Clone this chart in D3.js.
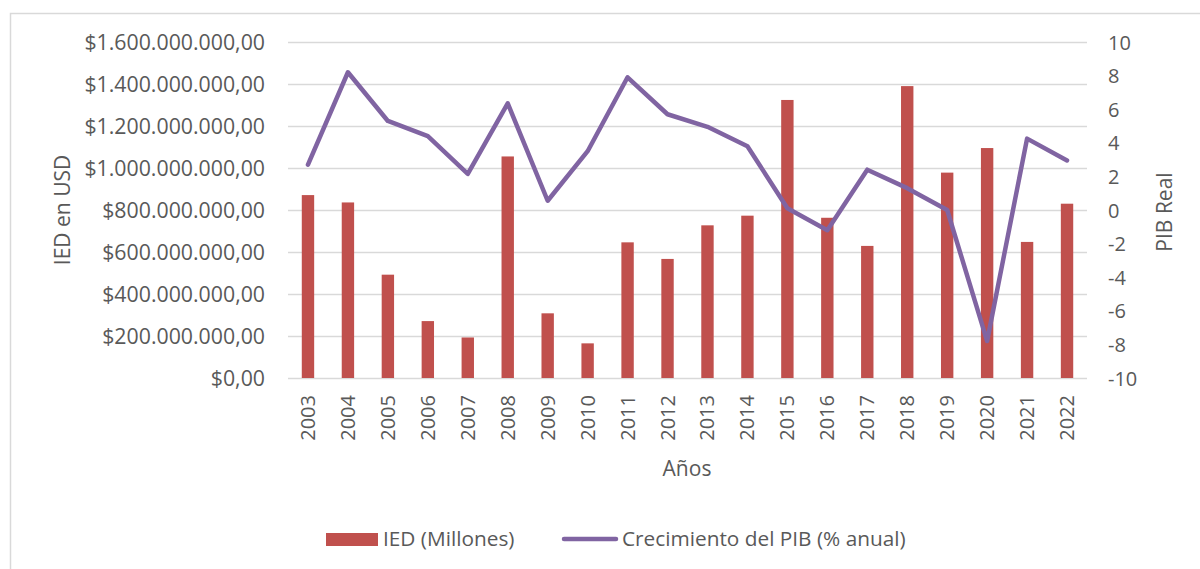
<!DOCTYPE html>
<html>
<head>
<meta charset="utf-8">
<script src="https://cdn.jsdelivr.net/npm/d3@7"></script>
<style>
  body { margin: 0; background: #fff; }
  text { font-family: "Open Sans", sans-serif; fill: #595959; }
</style>
</head>
<body>
<svg id="chart" width="1200" height="569"></svg>
<script>
// data
var years = ["2003","2004","2005","2006","2007","2008","2009","2010","2011","2012",
             "2013","2014","2015","2016","2017","2018","2019","2020","2021","2022"];
var ied = [871e6, 836e6, 492e6, 271e6, 193e6, 1055e6, 308e6, 165e6, 646e6, 567e6,
           727e6, 773e6, 1324e6, 763e6, 629e6, 1390e6, 978e6, 1095e6, 648e6, 830e6];
var pib = [2.7, 8.2, 5.3, 4.4, 2.15, 6.35, 0.55, 3.5, 7.9, 5.7,
           4.95, 3.8, 0.1, -1.2, 2.4, 1.3, 0.0, -7.8, 4.25, 2.95];
var leftTicks = [0, 2e8, 4e8, 6e8, 8e8, 10e8, 12e8, 14e8, 16e8];
var rightTicks = [-10, -8, -6, -4, -2, 0, 2, 4, 6, 8, 10];

var plot = { left: 288, right: 1087, top: 42, bottom: 378 };

var svg = d3.select("#chart");

// outer chart border
svg.append("rect")
  .attr("x", 10.5).attr("y", 13.5)
  .attr("width", 1200).attr("height", 600)
  .attr("fill", "none")
  .attr("stroke", "#d9d9d9")
  .attr("stroke-width", 1.5);

var x = d3.scaleBand()
  .domain(years)
  .range([plot.left, plot.right])
  .paddingInner(0.69)
  .paddingOuter(0.345);

var yL = d3.scaleLinear().domain([0, 1.6e9]).range([plot.bottom, plot.top]);
var yR = d3.scaleLinear().domain([-10, 10]).range([plot.bottom, plot.top]);

var fmt = function(v) {
  var s = d3.format(",.2f")(v);
  // spanish style: . thousands , decimals
  return "$" + s.replace(/,/g, "#").replace(".", ",").replace(/#/g, ".");
};

// gridlines
svg.append("g")
  .selectAll("line")
  .data(leftTicks)
  .enter().append("line")
    .attr("x1", plot.left).attr("x2", plot.right)
    .attr("y1", d => Math.round(yL(d)) + 0.5)
    .attr("y2", d => Math.round(yL(d)) + 0.5)
    .attr("stroke", "#d9d9d9")
    .attr("stroke-width", 1.5);

// left axis
var leftAxis = svg.append("g")
  .attr("transform", "translate(" + (plot.left - 23) + ",0)")
  .call(d3.axisLeft(yL).tickValues(leftTicks).tickFormat(fmt).tickSize(0).tickPadding(0));
leftAxis.select(".domain").remove();
leftAxis.selectAll("text").style("font-size", "21.3px").attr("dy", "0.35em");

// right axis
var rightAxis = svg.append("g")
  .attr("transform", "translate(" + (plot.right + 21) + ",0)")
  .call(d3.axisRight(yR).tickValues(rightTicks).tickFormat(d3.format("d")).tickSize(0).tickPadding(0));
rightAxis.select(".domain").remove();
rightAxis.selectAll("text").style("font-size", "20px").attr("dy", "0.35em")
  .text(d => d < 0 ? "-" + Math.abs(d) : d);

// bottom axis (rotated years)
var bottomAxis = svg.append("g")
  .attr("transform", "translate(0," + plot.bottom + ")")
  .call(d3.axisBottom(x).tickSize(0).tickPadding(0));
bottomAxis.select(".domain").remove();
bottomAxis.selectAll("text")
  .style("font-size", "20px")
  .attr("text-anchor", "end")
  .attr("transform", "rotate(-90)")
  .attr("x", -17)
  .attr("y", 0)
  .attr("dy", "0.35em");

// bars
svg.append("g")
  .selectAll("rect")
  .data(ied)
  .enter().append("rect")
    .attr("x", (d, i) => x(years[i]))
    .attr("y", d => yL(d))
    .attr("width", x.bandwidth())
    .attr("height", d => plot.bottom - yL(d))
    .attr("fill", "#c0504d");

// pib line
var line = d3.line()
  .x((d, i) => x(years[i]) + x.bandwidth() / 2)
  .y(d => yR(d));

svg.append("path")
  .datum(pib)
  .attr("d", line)
  .attr("fill", "none")
  .attr("stroke", "#8064a2")
  .attr("stroke-width", 4.5)
  .attr("stroke-linejoin", "round")
  .attr("stroke-linecap", "round");

// axis titles
svg.append("text")
  .attr("transform", "translate(70,210) rotate(-90)")
  .attr("text-anchor", "middle")
  .style("font-size", "21px")
  .text("IED en USD");

svg.append("text")
  .attr("transform", "translate(1172,212) rotate(-90)")
  .attr("text-anchor", "middle")
  .style("font-size", "21px")
  .text("PIB Real");

svg.append("text")
  .attr("x", 687).attr("y", 476)
  .attr("text-anchor", "middle")
  .style("font-size", "21px")
  .text("Años");

// legend
var legend = svg.append("g");
legend.append("rect")
  .attr("x", 326).attr("y", 533)
  .attr("width", 52).attr("height", 13)
  .attr("fill", "#c0504d");
legend.append("text")
  .attr("x", 383).attr("y", 546)
  .style("font-size", "20.8px")
  .text("IED (Millones)");
legend.append("line")
  .attr("x1", 564).attr("x2", 616)
  .attr("y1", 539).attr("y2", 539)
  .attr("stroke", "#8064a2")
  .attr("stroke-width", 4.5)
  .attr("stroke-linecap", "round");
legend.append("text")
  .attr("x", 622).attr("y", 546)
  .style("font-size", "20.8px")
  .text("Crecimiento del PIB (% anual)");
</script>
</body>
</html>
